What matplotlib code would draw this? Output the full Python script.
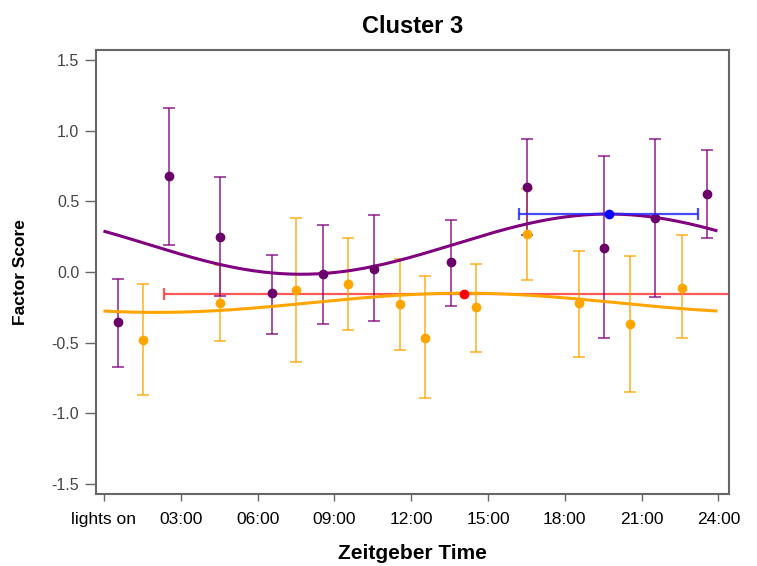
import numpy as np
import matplotlib
matplotlib.use("Agg")
import matplotlib.pyplot as plt

plt.rcParams['font.family'] = ['Liberation Sans', 'DejaVu Sans']

# ---- data ----
purple_t = [0.55, 2.54, 4.53, 6.55, 8.54, 10.53, 13.55, 16.52, 19.54, 21.54, 23.54]
purple_v = [-0.355, 0.68, 0.25, -0.15, -0.017, 0.02, 0.07, 0.60, 0.17, 0.385, 0.55]
purple_hi = [-0.05, 1.16, 0.67, 0.12, 0.33, 0.40, 0.37, 0.94, 0.82, 0.94, 0.865]
purple_lo = [-0.67, 0.19, -0.17, -0.44, -0.37, -0.35, -0.24, 0.26, -0.47, -0.18, 0.24]

orange_t = [1.54, 4.54, 7.52, 9.55, 11.56, 12.54, 14.53, 16.52, 18.57, 20.56, 22.56]
orange_v = [-0.48, -0.22, -0.13, -0.085, -0.23, -0.47, -0.25, 0.27, -0.22, -0.37, -0.11]
orange_hi = [-0.085, 0.05, 0.38, 0.24, 0.09, -0.03, 0.06, 0.59, 0.15, 0.11, 0.26]
orange_lo = [-0.87, -0.49, -0.64, -0.41, -0.55, -0.89, -0.565, -0.06, -0.60, -0.85, -0.47]

# cosinor fits: mesor, amplitude, acrophase (h), period (h)
purple_fit = dict(mesor=0.197, amp=0.213, acro=19.7, period=24.0)
orange_fit = dict(mesor=-0.218, amp=0.068, acro=14.05, period=24.0)
fit_range = [0.04, 23.9]

# acrophase points with horizontal confidence intervals
red_acro_t, red_acro_v, red_lo, red_hi = 14.05, -0.154, 2.35, 25.75
blue_acro_t, blue_acro_v, blue_lo, blue_hi = 19.72, 0.41, 16.2, 23.2

xticks = [0, 3, 6, 9, 12, 15, 18, 21, 24]
xticklabels = ['lights on', '03:00', '06:00', '09:00', '12:00', '15:00', '18:00', '21:00', '24:00']
yticks = [-1.5, -1.0, -0.5, 0.0, 0.5, 1.0, 1.5]

# ---- figure ----
fig = plt.figure(figsize=(7.57, 5.66), dpi=100)
ax = fig.add_axes([0.1268, 0.1272, 0.9630 - 0.1268, 0.9117 - 0.1272])

PURPLE = '#800080'
PURPLE_DOT = '#6a006a'
ORANGE = '#FFA500'

def cosinor(p, t):
    return p['mesor'] + p['amp'] * np.cos(2 * np.pi * (t - p['acro']) / p['period'])

tt = np.linspace(fit_range[0], fit_range[1], 400)

# red horizontal CI (behind)
ax.errorbar([red_acro_t], [red_acro_v],
            xerr=[[red_acro_t - red_lo], [red_hi - red_acro_t]],
            fmt='none', ecolor='#ff3b3b', elinewidth=1.6, capsize=4.5,
            capthick=1.6, alpha=0.85, zorder=2)

# orange error bars
ov = np.array(orange_v)
ax.errorbar(orange_t, orange_v,
            yerr=[ov - np.array(orange_lo), np.array(orange_hi) - ov],
            fmt='none', ecolor=ORANGE, elinewidth=1.3, capsize=4.5,
            capthick=1.3, alpha=0.75, zorder=3)
ax.plot(tt, cosinor(orange_fit, tt), color=ORANGE, lw=2.2, zorder=4)
ax.plot(orange_t, orange_v, 'o', color=ORANGE, ms=6, zorder=5)

# purple
pv = np.array(purple_v)
ax.errorbar(purple_t, purple_v,
            yerr=[pv - np.array(purple_lo), np.array(purple_hi) - pv],
            fmt='none', ecolor=PURPLE, elinewidth=1.3, capsize=4.5,
            capthick=1.3, alpha=0.75, zorder=3)
ax.plot(tt, cosinor(purple_fit, tt), color=PURPLE, lw=2.2, zorder=4)
ax.plot(purple_t, purple_v, 'o', color=PURPLE_DOT, ms=6, zorder=5)

# blue horizontal CI
ax.errorbar([blue_acro_t], [blue_acro_v],
            xerr=[[blue_acro_t - blue_lo], [blue_hi - blue_acro_t]],
            fmt='none', ecolor='#2a2aff', elinewidth=1.6, capsize=4.5,
            capthick=1.6, alpha=0.85, zorder=6)
ax.plot([blue_acro_t], [blue_acro_v], 'o', color='#0000ff', ms=6, zorder=7)
ax.plot([red_acro_t], [red_acro_v], 'o', color='#ff0000', ms=6, zorder=7)

ax.set_xlim(-0.31, 24.41)
ax.set_ylim(-1.571, 1.571)
ax.set_xticks(xticks)
ax.set_xticklabels(xticklabels, fontsize=12.5, color='black')
ax.set_yticks(yticks)
ax.set_yticklabels([f'{v:.1f}' for v in yticks], fontsize=11.5, color='#444444')
ax.tick_params(axis='x', direction='out', length=5, width=1, color='#666666', pad=8)
ax.tick_params(axis='y', direction='out', length=8, width=1, color='#666666', pad=4)
for s in ax.spines.values():
    s.set_color('#666666')
    s.set_linewidth(1.5)

ax.set_title('Cluster 3', fontsize=17, fontweight='bold', pad=12)
ax.set_xlabel('Zeitgeber Time', fontsize=15, fontweight='bold', labelpad=12)
ax.set_ylabel('Factor Score', fontsize=12.5, fontweight='bold', labelpad=17)

fig.savefig('out.png', dpi=100)
